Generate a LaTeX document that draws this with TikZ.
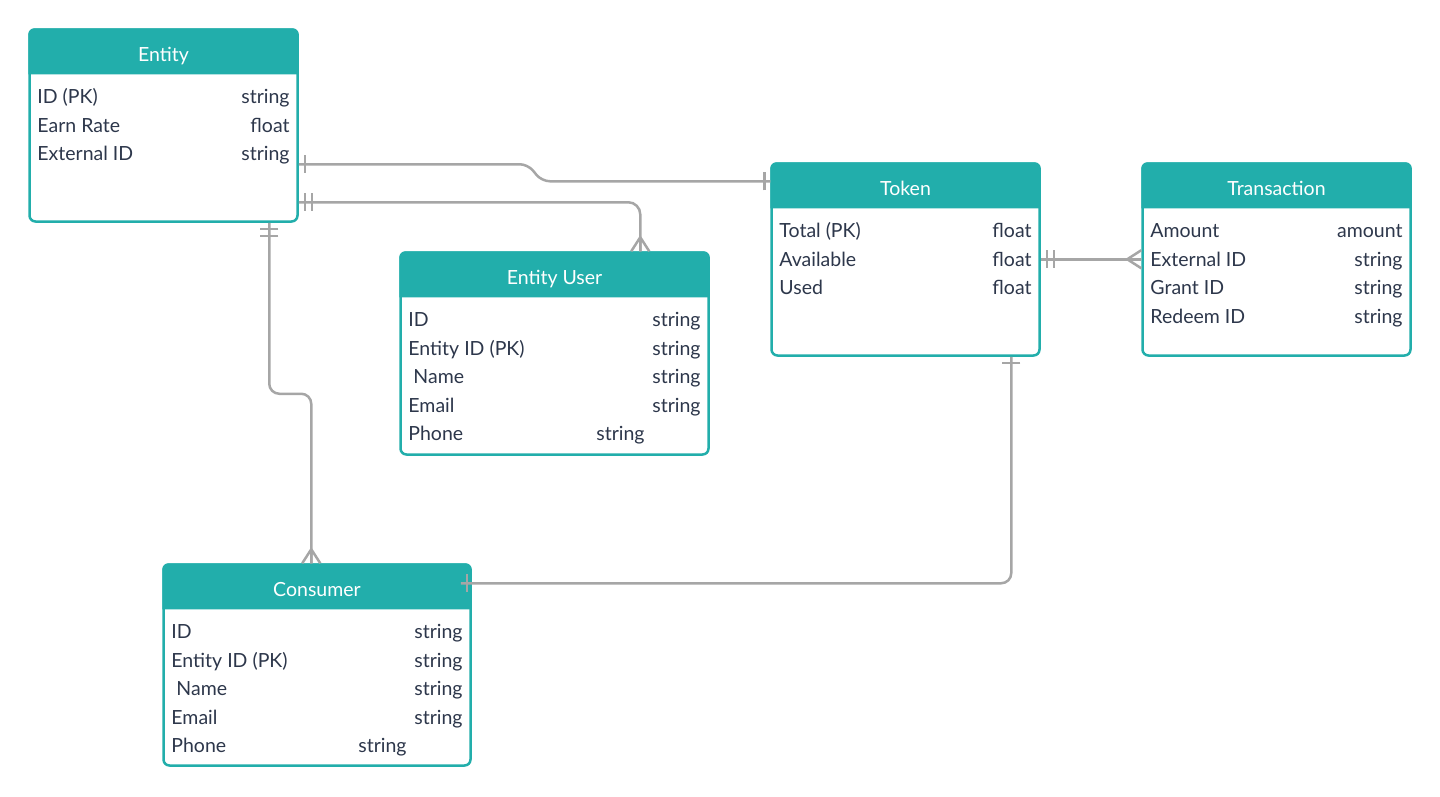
\documentclass[tikz,border=0pt]{standalone}
\usepackage{fontspec}
\setmainfont{Lato}
\usepackage{tikz}
\usetikzlibrary{positioning, calc}
\definecolor{erteal}{RGB}{34,174,171}
\definecolor{erink}{RGB}{45,55,75}
\definecolor{ergray}{RGB}{166,166,166}
\newcommand{\erfont}{\fontsize{19.5}{23}\selectfont}
\tikzset{
  tablebox/.style 2 args={rectangle, draw=erteal, fill=white, line width=2.5pt,
    rounded corners=6pt, minimum width=#1, minimum height=#2, inner sep=0pt},
  tabletitle/.style={anchor=base, inner sep=0pt, text=white, font=\erfont},
  fieldname/.style={anchor=base west, inner sep=0pt, text=erink, font=\erfont},
  fieldtype/.style={anchor=base east, inner sep=0pt, text=erink, font=\erfont},
  erline/.style={draw=ergray, line width=2.5pt},
  onebar/.pic={\draw[erline] (6,-9) -- (6,9);},
  twobar/.pic={\draw[erline] (6,-9) -- (6,9) (13,-9) -- (13,9);},
  crowfoot/.pic={\draw[erline] (14,0) -- (0,-9) (14,0) -- (0,0) (14,0) -- (0,9);}
}
\newcommand{\tablehead}[2]{%
  \fill[erteal] ($(#1.north west)+(0,46)$) [rounded corners=6pt] -- (#1.north west)
    -- (#1.north east) [sharp corners] -- ($(#1.north east)+(0,46)$) -- cycle;
  \node[tabletitle] (#1-title) at ($(#1.north)+(0,33)$) {#2};}

\begin{document}
\begin{tikzpicture}[x=1pt, y=-1pt]
  \useasboundingbox (0,0) rectangle (1440,796);

  % Entity
  \node[tablebox={268pt}{192pt}] (entity) at (163.5,125.5) {};
  \tablehead{entity}{Entity}
  \foreach \fname/\ftype/\fgap [count=\i] in {ID (PK)/string/9, Earn Rate/float/9, External ID/string/9} {
    \node[fieldname] (entity-n\i) at ($(entity.north west)+(9,47+28.5*\i)$) {\fname};
    \node[fieldtype] (entity-t\i) at ($(entity.north east)+(-\fgap,47+28.5*\i)$) {\ftype};
  }

  % Token
  \node[tablebox={268pt}{192pt}] (token) at (905.5,259.5) {};
  \tablehead{token}{Token}
  \foreach \fname/\ftype/\fgap [count=\i] in {Total (PK)/float/9, Available/float/9, Used/float/9} {
    \node[fieldname] (token-n\i) at ($(token.north west)+(9,47+28.5*\i)$) {\fname};
    \node[fieldtype] (token-t\i) at ($(token.north east)+(-\fgap,47+28.5*\i)$) {\ftype};
  }

  % Transaction
  \node[tablebox={268pt}{192pt}] (transaction) at (1276.5,259.5) {};
  \tablehead{transaction}{Transaction}
  \foreach \fname/\ftype/\fgap [count=\i] in {Amount/amount/9, External ID/string/9, Grant ID/string/9, Redeem ID/string/9} {
    \node[fieldname] (transaction-n\i) at ($(transaction.north west)+(9,47+28.5*\i)$) {\fname};
    \node[fieldtype] (transaction-t\i) at ($(transaction.north east)+(-\fgap,47+28.5*\i)$) {\ftype};
  }

  % Entity User
  \node[tablebox={308pt}{202pt}] (entityuser) at (554.5,353.5) {};
  \tablehead{entityuser}{Entity User}
  \foreach \fname/\ftype/\fgap [count=\i] in {ID/string/9, Entity ID (PK)/string/9, \hspace{5pt}Name/string/9, Email/string/9, Phone/string/65} {
    \node[fieldname] (entityuser-n\i) at ($(entityuser.north west)+(9,47+28.5*\i)$) {\fname};
    \node[fieldtype] (entityuser-t\i) at ($(entityuser.north east)+(-\fgap,47+28.5*\i)$) {\ftype};
  }

  % Consumer
  \node[tablebox={307pt}{201pt}] (consumer) at (317,665) {};
  \tablehead{consumer}{Consumer}
  \foreach \fname/\ftype/\fgap [count=\i] in {ID/string/9, Entity ID (PK)/string/9, \hspace{5pt}Name/string/9, Email/string/9, Phone/string/65} {
    \node[fieldname] (consumer-n\i) at ($(consumer.north west)+(9,47+28.5*\i)$) {\fname};
    \node[fieldtype] (consumer-t\i) at ($(consumer.north east)+(-\fgap,47+28.5*\i)$) {\ftype};
  }

  % Relations
  \coordinate (ent-tok-a) at ($(entity.north east)+(0,136)$);
  \coordinate (ent-tok-b) at ($(token.north west)+(0,19)$);
  \draw[erline, rounded corners=8pt] (ent-tok-a) -- ++(229,0) -- ++(14,17) -- (ent-tok-b);
  \pic at (ent-tok-a) {onebar};
  \pic[rotate=180] at (ent-tok-b) {onebar};

  \coordinate (ent-usr-a) at ($(entity.north east)+(0,174)$);
  \coordinate (ent-usr-b) at ($(entityuser.north west)+(241,0)$);
  \draw[erline, rounded corners=12pt] (ent-usr-a) -| (ent-usr-b);
  \pic at (ent-usr-a) {twobar};
  \pic[rotate=90] at (ent-usr-b) {crowfoot};

  \coordinate (ent-con-a) at ($(entity.south west)+(241,0)$);
  \coordinate (ent-con-b) at ($(consumer.north west)+(149,0)$);
  \draw[erline, rounded corners=10pt] (ent-con-a) -- ++(0,171) -| (ent-con-b);
  \pic[rotate=-90] at (ent-con-a) {twobar};
  \pic[rotate=90] at (ent-con-b) {crowfoot};

  \coordinate (tok-trn-a) at ($(token.north east)+(0,97)$);
  \coordinate (tok-trn-b) at (tok-trn-a -| transaction.west);
  \draw[erline] (tok-trn-a) -- (tok-trn-b);
  \pic at (tok-trn-a) {twobar};
  \pic[rotate=180] at (tok-trn-b) {crowfoot};

  \coordinate (tok-con-a) at ($(token.south west)+(241,0)$);
  \coordinate (tok-con-b) at ($(consumer.north east)+(-11,20)$);
  \draw[erline, rounded corners=10pt] (tok-con-a) |- (tok-con-b);
  \pic[rotate=-90] at (tok-con-a) {onebar};
  \pic at (tok-con-b) {onebar};
\end{tikzpicture}
\end{document}
